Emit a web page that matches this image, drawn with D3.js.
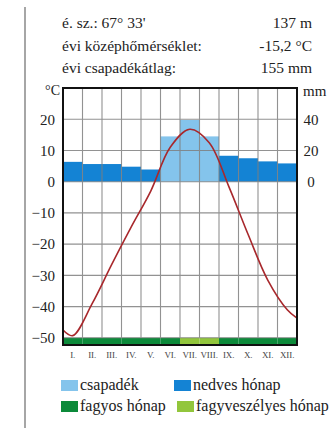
<!DOCTYPE html>
<html><head><meta charset="utf-8">
<script src="https://cdn.jsdelivr.net/npm/d3@7"></script>
<style>
html,body{margin:0;padding:0;background:#fff;}
svg{display:block;}
</style></head>
<body><svg id="c" width="333" height="428" font-family="'Liberation Serif', 'Times New Roman', 'DejaVu Serif', serif"></svg>
<script>
const months = ["I.","II.","III.","IV.","V.","VI.","VII.","VIII.","IX.","X.","XI.","XII."];
const precip = [12.7,11.3,11.3,9.6,7.8,29,39.5,29,16.6,15,13,11.7];
const temp = [-49.3,-39,-26.5,-14.5,-3,11,16.8,12.5,-1.5,-17,-31.5,-41];
const tempEdges = [-47.5,-43.7];
const moisture = ["n","n","n","n","n","c","c","c","n","n","n","n"];
const frost = ["f","f","f","f","f","f","v","v","f","f","f","f"];
const tempTicks = [-50,-40,-30,-20,-10,0,10,20];
const precipTicks = [0,20,40];
const header = [["é. sz.: 67° 33'","137 m"],["évi középhőmérséklet:","-15,2 °C"],["évi csapadékátlag:","155 mm"]];
const legend = [["c","csapadék"],["n","nedves hónap"],["f","fagyos hónap"],["v","fagyveszélyes hónap"]];

const FONT = "'Liberation Serif', 'Times New Roman', serif";
const colors = {c:"#84c4ec", n:"#1483d4", f:"#0c8a3a", v:"#92c63c"};
const svg = d3.select("#c");
const L=63,R=297,T=88,B=345;
const x = d3.scaleLinear().domain([0,12]).range([L,R]);
const y = d3.scaleLinear().domain([-52.3,30]).range([B,T]);
const yp = d3.scaleLinear().domain([-104.6,60]).range([B,T]);

function txt(sel){ return sel.attr("font-family",FONT).attr("fill","#222"); }

// left border line
svg.append("line").attr("x1",25).attr("x2",25).attr("y1",7).attr("y2",428).attr("stroke","#888").attr("stroke-width",1.5);

// header
header.forEach((h,i)=>{
  const by = 28 + i*22.5;
  txt(svg.append("text")).attr("x",62).attr("y",by).attr("font-size",15.5).text(h[0]);
  txt(svg.append("text")).attr("x",312).attr("y",by).attr("font-size",15.5).attr("text-anchor","end").text(h[1]);
});

// precipitation bars
svg.append("g").selectAll("rect").data(precip).join("rect")
  .attr("x",(d,i)=>x(i)).attr("width",x(1)-x(0))
  .attr("y",d=>yp(d)).attr("height",d=>yp(0)-yp(d))
  .attr("fill",(d,i)=>colors[moisture[i]]);

// frost bar
svg.append("g").selectAll("rect").data(frost).join("rect")
  .attr("x",(d,i)=>x(i)).attr("width",x(1)-x(0))
  .attr("y",y(-50)).attr("height",B-y(-50))
  .attr("fill",d=>colors[d]);

// grid
const g = svg.append("g").attr("stroke","#7f7f7f").attr("stroke-width",1.1).attr("opacity",0.85);
d3.range(1,12).forEach(i=>g.append("line").attr("x1",x(i)).attr("x2",x(i)).attr("y1",T).attr("y2",y(-50)));
tempTicks.forEach(t=>g.append("line").attr("x1",L).attr("x2",R).attr("y1",y(t)).attr("y2",y(t)));

// temperature curve
const pts = [[0,tempEdges[0]]].concat(temp.map((t,i)=>[i+0.5,t])).concat([[12,tempEdges[1]]]);
svg.append("path").datum(pts)
  .attr("d",d3.line().x(d=>x(d[0])).y(d=>y(d[1])).curve(d3.curveCatmullRom.alpha(0.5)))
  .attr("fill","none").attr("stroke","#a8282c").attr("stroke-width",1.6);

// frame
svg.append("rect").attr("x",L).attr("y",T).attr("width",R-L).attr("height",B-T)
  .attr("fill","none").attr("stroke","#111").attr("stroke-width",2);

// axes
const ax = svg.append("g").attr("transform",`translate(${L-8},0)`)
  .call(d3.axisLeft(y).tickValues(tempTicks).tickSize(0).tickPadding(0));
ax.attr("font-family",FONT);
ax.select(".domain").remove();
txt(ax.selectAll("text")).attr("font-size",15);

const axr = svg.append("g").attr("transform",`translate(${R+14},0)`)
  .call(d3.axisRight(yp).tickValues(precipTicks).tickSize(0).tickPadding(0));
axr.attr("font-family",FONT);
axr.select(".domain").remove();
txt(axr.selectAll("text")).attr("font-size",15).attr("text-anchor","middle");

txt(svg.append("text")).attr("x",60).attr("y",95).attr("font-size",14).attr("text-anchor","end").text("°C");
txt(svg.append("text")).attr("x",303).attr("y",96).attr("font-size",15).text("mm");

// month labels
txt(svg.append("g").selectAll("text").data(months).join("text"))
  .attr("x",(d,i)=>x(i+0.5)).attr("y",358).attr("font-size",9).attr("text-anchor","middle").attr("fill","#444").text(d=>d);

// legend
const lpos = [[61,380],[174,380],[61,401],[177,401]];
legend.forEach((l,i)=>{
  const [lx,ly]=lpos[i];
  svg.append("rect").attr("x",lx).attr("y",ly).attr("width",17).attr("height",11).attr("fill",colors[l[0]]);
  txt(svg.append("text")).attr("x",lx+19).attr("y",ly+10).attr("font-size",16).text(l[1]);
});
</script></body></html>
